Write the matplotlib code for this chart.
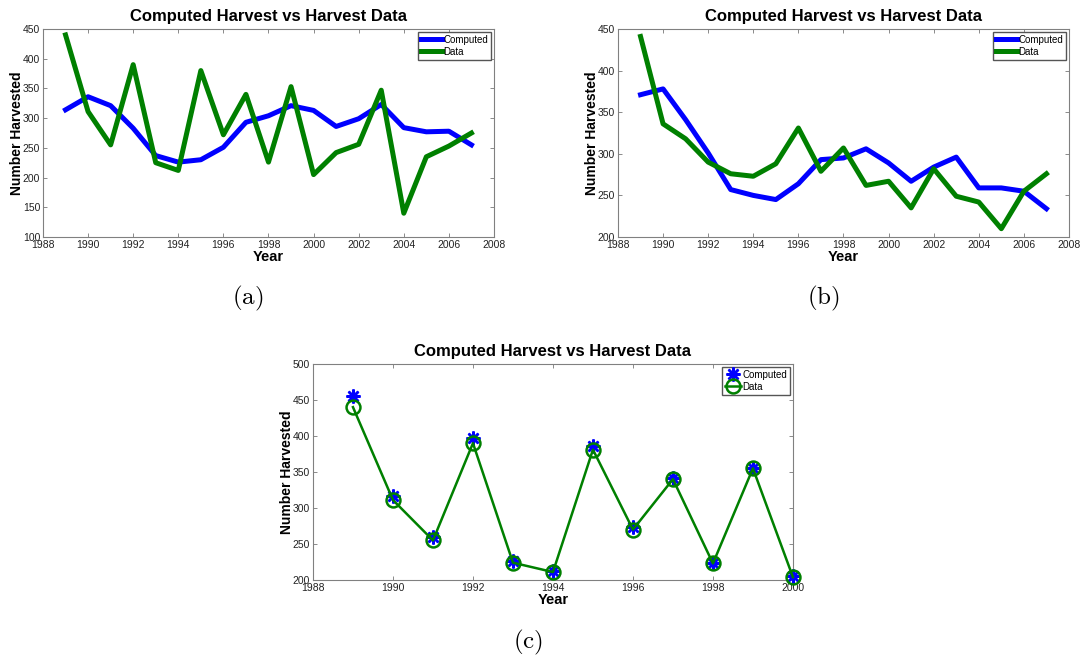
import matplotlib
matplotlib.use('Agg')
import matplotlib.pyplot as plt
import numpy as np

# Data
years_ab = list(range(1989, 2008))
computed_a = [314, 336, 321, 283, 237, 226, 230, 251, 293, 304, 321, 313, 286, 299, 323, 284, 277, 278, 255]
data_a = [440, 311, 255, 390, 225, 212, 380, 272, 340, 226, 353, 205, 242, 256, 347, 140, 235, 253, 275]

computed_b = [371, 378, 341, 301, 257, 250, 245, 264, 293, 295, 306, 289, 267, 284, 296, 259, 259, 255, 234]
data_b = [441, 336, 318, 290, 276, 273, 288, 331, 279, 307, 262, 267, 235, 282, 249, 242, 210, 255, 276]

years_c = list(range(1989, 2001))
computed_c = [455, 317, 259, 397, 226, 213, 386, 273, 342, 223, 356, 205]
data_c = [440, 311, 255, 390, 224, 211, 381, 270, 340, 223, 355, 204]

plt.rcParams['font.family'] = ['Liberation Sans', 'DejaVu Sans']
plt.rcParams['mathtext.fontset'] = 'cm'

BLUE = '#0000ff'
GREEN = '#008000'

fig = plt.figure(figsize=(10.8, 6.62), dpi=100)


def style_axes(ax, xlim, ylim, yticks):
    ax.set_xlim(*xlim)
    ax.set_ylim(*ylim)
    ax.set_xticks(np.arange(xlim[0], xlim[1] + 1, 2))
    ax.set_yticks(yticks)
    ax.tick_params(direction='in', top=True, right=True, length=3, width=0.6,
                   labelsize=7.5, colors='#777777', labelcolor='#222222', pad=2)
    for s in ax.spines.values():
        s.set_color('#808080')
        s.set_linewidth(0.8)
    ax.set_title('Computed Harvest vs Harvest Data', fontsize=12, fontweight='bold', pad=6)
    ax.set_xlabel('Year', fontsize=10.5, fontweight='bold', labelpad=0)
    ax.set_ylabel('Number Harvested', fontsize=10, fontweight='bold', labelpad=-1)


def add_legend(ax, hl):
    ax.legend(loc='upper right', fontsize=7, handlelength=hl, handletextpad=0.15,
              borderpad=0.3, labelspacing=0.2, fancybox=False, edgecolor='#555555',
              framealpha=1, borderaxespad=0.3, numpoints=1)


# (a)
ax1 = fig.add_axes([0.0398, 0.642, 0.4176, 0.3142])
ax1.plot(years_ab, computed_a, color=BLUE, lw=3.6, label='Computed')
ax1.plot(years_ab, data_a, color=GREEN, lw=3.6, label='Data')
style_axes(ax1, (1988, 2008), (100, 450), np.arange(100, 451, 50))
add_legend(ax1, 2.2)

# (b)
ax2 = fig.add_axes([0.5722, 0.642, 0.4176, 0.3142])
ax2.plot(years_ab, computed_b, color=BLUE, lw=3.6, label='Computed')
ax2.plot(years_ab, data_b, color=GREEN, lw=3.6, label='Data')
style_axes(ax2, (1988, 2008), (200, 450), np.arange(200, 451, 50))
add_legend(ax2, 2.2)

# (c)
ax3 = fig.add_axes([0.2898, 0.1239, 0.4444, 0.3263])
ax3.plot(years_c, computed_c, linestyle='none', marker=(8, 2, 0), markersize=10,
         markeredgewidth=1.8, color=BLUE, label='Computed', clip_on=False, zorder=3)
ax3.plot(years_c, data_c, color=GREEN, lw=1.8, marker='o', markersize=10,
         markerfacecolor='none', markeredgewidth=1.8, label='Data', clip_on=False, zorder=4)
style_axes(ax3, (1988, 2000), (200, 500), np.arange(200, 501, 50))
add_legend(ax3, 1.6)

# panel labels
fig.text(248 / 1080, 1 - 298 / 662, r'$(\mathrm{a})$', fontsize=18, ha='center', va='center')
fig.text(823 / 1080, 1 - 298 / 662, r'$(\mathrm{b})$', fontsize=18, ha='center', va='center')
fig.text(528 / 1080, 1 - 642 / 662, r'$(\mathrm{c})$', fontsize=18, ha='center', va='center')

fig.savefig('out.png', dpi=100)
